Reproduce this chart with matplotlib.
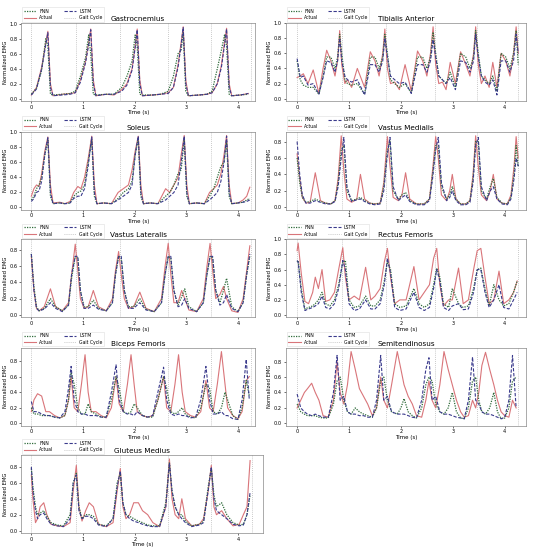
import matplotlib
matplotlib.use("Agg")
import matplotlib.pyplot as plt

# ---------------- data ----------------
gait_cycle = [0, 0.86, 1.72, 2.65, 3.47, 4.26]

# Gastrocnemius
gas_t = [0, 0.1, 0.2, 0.28, 0.32, 0.37, 0.42, 0.6, 0.75, 0.85, 0.95, 1.05, 1.11, 1.15, 1.2, 1.25,
         1.45, 1.6, 1.75, 1.85, 1.95, 2.01, 2.05, 2.1, 2.15, 2.35, 2.5, 2.65, 2.75, 2.84, 2.9, 2.94,
         2.99, 3.04, 3.25, 3.4, 3.5, 3.6, 3.68, 3.74, 3.78, 3.83, 3.88, 4.05, 4.2]
gas_act = [0.05, 0.15, 0.42, 0.75, 0.9, 0.2, 0.04, 0.06, 0.07, 0.08, 0.25, 0.5, 0.75, 0.93, 0.25, 0.04,
           0.06, 0.05, 0.12, 0.2, 0.4, 0.7, 0.93, 0.25, 0.04, 0.05, 0.06, 0.08, 0.15, 0.45, 0.75, 0.96,
           0.25, 0.04, 0.05, 0.06, 0.08, 0.2, 0.45, 0.75, 0.94, 0.2, 0.04, 0.05, 0.07]
gas_fnn = [0.06, 0.14, 0.38, 0.8, 0.7, 0.06, 0.05, 0.06, 0.07, 0.1, 0.3, 0.55, 0.85, 0.6, 0.06, 0.05,
           0.06, 0.06, 0.15, 0.3, 0.5, 0.85, 0.7, 0.06, 0.05, 0.05, 0.06, 0.1, 0.3, 0.6, 0.65, 0.88,
           0.1, 0.04, 0.05, 0.06, 0.1, 0.4, 0.65, 0.85, 0.7, 0.06, 0.04, 0.05, 0.06]
gas_lstm = [0.05, 0.13, 0.4, 0.72, 0.88, 0.15, 0.04, 0.05, 0.06, 0.08, 0.22, 0.48, 0.72, 0.92, 0.2, 0.04,
            0.06, 0.06, 0.1, 0.18, 0.38, 0.68, 0.92, 0.2, 0.04, 0.05, 0.06, 0.07, 0.15, 0.42, 0.72, 0.95,
            0.2, 0.04, 0.05, 0.06, 0.08, 0.2, 0.42, 0.72, 0.93, 0.15, 0.04, 0.05, 0.07]

# Tibialis Anterior
tib_t = [0, 0.06, 0.12, 0.21, 0.31, 0.42, 0.5, 0.57, 0.65, 0.73, 0.78, 0.82, 0.86,
         0.92, 0.97, 1.05, 1.16, 1.3, 1.41, 1.5, 1.58, 1.65, 1.69, 1.74,
         1.8, 1.88, 1.97, 2.08, 2.2, 2.32, 2.42, 2.5, 2.57, 2.62, 2.67,
         2.73, 2.8, 2.87, 2.95, 3.05, 3.15, 3.25, 3.33, 3.4, 3.44, 3.49,
         3.55, 3.62, 3.7, 3.77, 3.85, 3.93, 4.02, 4.1, 4.17, 4.22, 4.26]
tib_act = [0.28, 0.3, 0.33, 0.2, 0.38, 0.07, 0.4, 0.64, 0.5, 0.3, 0.5, 0.9, 0.45,
           0.2, 0.25, 0.15, 0.4, 0.15, 0.62, 0.5, 0.3, 0.6, 0.92, 0.4,
           0.2, 0.22, 0.12, 0.45, 0.1, 0.63, 0.5, 0.3, 0.6, 0.95, 0.45,
           0.2, 0.22, 0.12, 0.48, 0.2, 0.62, 0.45, 0.3, 0.6, 0.95, 0.45,
           0.2, 0.3, 0.15, 0.48, 0.15, 0.6, 0.5, 0.3, 0.6, 0.95, 0.6]
tib_fnn = [0.5, 0.25, 0.18, 0.15, 0.15, 0.06, 0.3, 0.55, 0.55, 0.4, 0.55, 0.85, 0.6,
           0.25, 0.2, 0.18, 0.2, 0.06, 0.55, 0.55, 0.4, 0.55, 0.85, 0.6,
           0.25, 0.2, 0.15, 0.2, 0.08, 0.55, 0.55, 0.4, 0.55, 0.88, 0.6,
           0.3, 0.25, 0.2, 0.35, 0.15, 0.6, 0.55, 0.4, 0.55, 0.9, 0.6,
           0.3, 0.25, 0.2, 0.3, 0.1, 0.6, 0.55, 0.4, 0.6, 0.9, 0.45]
tib_lstm = [0.53, 0.28, 0.3, 0.18, 0.2, 0.06, 0.28, 0.5, 0.48, 0.35, 0.5, 0.8, 0.5,
            0.3, 0.25, 0.22, 0.25, 0.05, 0.45, 0.45, 0.35, 0.5, 0.8, 0.55,
            0.3, 0.25, 0.2, 0.22, 0.07, 0.45, 0.45, 0.35, 0.5, 0.78, 0.55,
            0.3, 0.25, 0.2, 0.28, 0.12, 0.5, 0.48, 0.35, 0.5, 0.85, 0.55,
            0.3, 0.22, 0.18, 0.25, 0.05, 0.5, 0.5, 0.35, 0.5, 0.85, 0.6]

# Soleus
sol_t = [0, 0.05, 0.1, 0.15, 0.2, 0.26, 0.32, 0.37, 0.42, 0.55, 0.65, 0.75,
         0.82, 0.9, 0.96, 1.03, 1.1, 1.17, 1.22, 1.27, 1.4, 1.55,
         1.68, 1.78, 1.88, 1.95, 2.01, 2.07, 2.12, 2.17, 2.3, 2.45,
         2.6, 2.68, 2.76, 2.84, 2.9, 2.96, 3.01, 3.06, 3.2, 3.35,
         3.45, 3.53, 3.6, 3.67, 3.73, 3.78, 3.83, 3.88, 4.0, 4.1, 4.17, 4.23]
sol_act = [0.15, 0.25, 0.3, 0.28, 0.45, 0.75, 0.94, 0.3, 0.06, 0.07, 0.05, 0.08,
           0.2, 0.28, 0.25, 0.4, 0.65, 0.95, 0.3, 0.05, 0.06, 0.05,
           0.2, 0.25, 0.3, 0.5, 0.75, 0.95, 0.3, 0.05, 0.06, 0.05,
           0.25, 0.2, 0.3, 0.4, 0.7, 0.96, 0.3, 0.05, 0.06, 0.05,
           0.2, 0.25, 0.3, 0.45, 0.7, 0.96, 0.3, 0.05, 0.06, 0.1, 0.15, 0.27]
sol_fnn = [0.1, 0.15, 0.25, 0.3, 0.4, 0.7, 0.9, 0.15, 0.05, 0.06, 0.05, 0.06,
           0.15, 0.2, 0.22, 0.3, 0.6, 0.9, 0.15, 0.05, 0.06, 0.05,
           0.12, 0.2, 0.25, 0.35, 0.7, 0.92, 0.15, 0.05, 0.06, 0.05,
           0.15, 0.2, 0.3, 0.45, 0.5, 0.9, 0.15, 0.05, 0.06, 0.05,
           0.15, 0.25, 0.4, 0.55, 0.6, 0.88, 0.15, 0.05, 0.06, 0.07, 0.1, 0.12]
sol_lstm = [0.08, 0.12, 0.2, 0.22, 0.35, 0.7, 0.93, 0.2, 0.05, 0.06, 0.05, 0.06,
            0.12, 0.15, 0.15, 0.25, 0.55, 0.94, 0.2, 0.05, 0.06, 0.05,
            0.1, 0.15, 0.2, 0.3, 0.7, 0.95, 0.2, 0.05, 0.06, 0.05,
            0.1, 0.15, 0.2, 0.3, 0.6, 0.95, 0.2, 0.05, 0.06, 0.05,
            0.1, 0.15, 0.2, 0.35, 0.6, 0.95, 0.2, 0.05, 0.06, 0.07, 0.08, 0.1]

# Vastus Medialis
vm_t = [0, 0.05, 0.1, 0.17, 0.25, 0.35, 0.45, 0.55, 0.65, 0.73, 0.79, 0.85, 0.9, 0.96,
        1.05, 1.15, 1.22, 1.3, 1.4, 1.5, 1.6, 1.67, 1.74, 1.79, 1.85,
        1.95, 2.02, 2.09, 2.17, 2.3, 2.45, 2.55, 2.61, 2.67, 2.72, 2.78,
        2.88, 2.94, 2.99, 3.06, 3.15, 3.25, 3.33, 3.39, 3.44, 3.49, 3.55,
        3.65, 3.72, 3.78, 3.85, 3.95, 4.05, 4.12, 4.18, 4.22, 4.26]
vm_act = [0.65, 0.35, 0.12, 0.05, 0.06, 0.42, 0.08, 0.05, 0.04, 0.08, 0.35, 0.87, 0.45, 0.1,
          0.06, 0.1, 0.4, 0.1, 0.05, 0.04, 0.05, 0.3, 0.86, 0.5, 0.12,
          0.08, 0.15, 0.42, 0.1, 0.04, 0.04, 0.1, 0.45, 0.86, 0.6, 0.15,
          0.08, 0.2, 0.4, 0.1, 0.04, 0.04, 0.08, 0.4, 0.87, 0.5, 0.15,
          0.08, 0.2, 0.4, 0.1, 0.05, 0.04, 0.15, 0.5, 0.86, 0.6]
vm_fnn = [0.6, 0.3, 0.12, 0.06, 0.07, 0.1, 0.07, 0.05, 0.04, 0.08, 0.3, 0.7, 0.75, 0.2,
          0.08, 0.1, 0.12, 0.08, 0.05, 0.04, 0.05, 0.25, 0.7, 0.8, 0.2,
          0.1, 0.15, 0.18, 0.08, 0.04, 0.04, 0.1, 0.4, 0.75, 0.75, 0.25,
          0.1, 0.15, 0.25, 0.1, 0.04, 0.04, 0.08, 0.35, 0.8, 0.8, 0.2,
          0.1, 0.25, 0.35, 0.12, 0.05, 0.04, 0.12, 0.4, 0.75, 0.5]
vm_lstm = [0.8, 0.4, 0.15, 0.05, 0.05, 0.08, 0.06, 0.04, 0.04, 0.07, 0.25, 0.6, 0.85, 0.25,
           0.07, 0.09, 0.1, 0.07, 0.04, 0.03, 0.04, 0.2, 0.65, 0.85, 0.25,
           0.08, 0.12, 0.15, 0.07, 0.03, 0.03, 0.08, 0.35, 0.7, 0.85, 0.3,
           0.08, 0.12, 0.2, 0.08, 0.03, 0.03, 0.06, 0.3, 0.75, 0.85, 0.25,
           0.08, 0.2, 0.25, 0.1, 0.04, 0.03, 0.1, 0.35, 0.6, 0.5]

# Vastus Lateralis
vl_t = [0, 0.05, 0.1, 0.15, 0.25, 0.37, 0.47, 0.6,
        0.72, 0.78, 0.85, 0.9, 0.95, 1.02, 1.1, 1.2, 1.3, 1.45,
        1.57, 1.63, 1.69, 1.74, 1.8, 1.88, 1.98, 2.1, 2.22, 2.38,
        2.52, 2.59, 2.65, 2.7, 2.76, 2.84, 2.91, 2.97, 3.05, 3.2,
        3.33, 3.4, 3.46, 3.51, 3.57, 3.65, 3.72, 3.78, 3.88, 4.0,
        4.1, 4.17, 4.23]
vl_act = [0.72, 0.3, 0.08, 0.05, 0.1, 0.32, 0.1, 0.05,
          0.15, 0.5, 0.87, 0.55, 0.2, 0.08, 0.1, 0.3, 0.1, 0.05,
          0.2, 0.55, 0.78, 0.5, 0.2, 0.08, 0.1, 0.28, 0.08, 0.04,
          0.2, 0.6, 0.88, 0.5, 0.15, 0.15, 0.3, 0.2, 0.06, 0.04,
          0.2, 0.6, 0.88, 0.55, 0.2, 0.25, 0.35, 0.2, 0.05, 0.03,
          0.2, 0.55, 0.85]
vl_fnn = [0.75, 0.35, 0.1, 0.05, 0.08, 0.2, 0.1, 0.05,
          0.12, 0.45, 0.72, 0.7, 0.3, 0.1, 0.1, 0.18, 0.08, 0.05,
          0.15, 0.5, 0.72, 0.7, 0.3, 0.1, 0.1, 0.2, 0.07, 0.04,
          0.15, 0.5, 0.72, 0.7, 0.3, 0.12, 0.22, 0.32, 0.1, 0.04,
          0.15, 0.5, 0.72, 0.7, 0.3, 0.15, 0.3, 0.45, 0.1, 0.04,
          0.15, 0.5, 0.72]
vl_lstm = [0.75, 0.3, 0.08, 0.05, 0.07, 0.15, 0.08, 0.04,
           0.12, 0.5, 0.72, 0.72, 0.3, 0.08, 0.08, 0.12, 0.07, 0.05,
           0.15, 0.5, 0.72, 0.72, 0.3, 0.08, 0.08, 0.15, 0.06, 0.04,
           0.15, 0.5, 0.72, 0.72, 0.3, 0.1, 0.12, 0.2, 0.08, 0.04,
           0.15, 0.5, 0.72, 0.72, 0.3, 0.12, 0.15, 0.25, 0.08, 0.04,
           0.15, 0.5, 0.75]

# Rectus Femoris
rf_t = [0, 0.02, 0.08, 0.15, 0.22, 0.3, 0.35, 0.41, 0.48, 0.55,
        0.63, 0.72, 0.8, 0.88, 0.93, 1.0, 1.1, 1.2, 1.32, 1.42,
        1.5, 1.6, 1.68, 1.74, 1.8, 1.88, 1.98, 2.1, 2.25, 2.35,
        2.45, 2.55, 2.63, 2.69, 2.75, 2.82, 2.92, 2.99, 3.11, 3.2,
        3.3, 3.4, 3.47, 3.54, 3.62, 3.7, 3.79, 3.89, 3.98, 4.08,
        4.17, 4.24]
rf_act = [0.85, 0.95, 0.55, 0.18, 0.15, 0.3, 0.5, 0.35, 0.6, 0.18,
          0.2, 0.3, 0.6, 0.89, 0.5, 0.2, 0.25, 0.2, 0.63, 0.2,
          0.25, 0.35, 0.7, 0.88, 0.5, 0.15, 0.2, 0.2, 0.64, 0.2,
          0.3, 0.4, 0.75, 0.88, 0.4, 0.12, 0.2, 0.2, 0.62, 0.15,
          0.2, 0.6, 0.85, 0.88, 0.5, 0.15, 0.2, 0.58, 0.15, 0.2,
          0.3, 0.45]
rf_fnn = [0.7, 0.72, 0.35, 0.08, 0.1, 0.12, 0.15, 0.2, 0.3, 0.15,
          0.12, 0.2, 0.4, 0.7, 0.72, 0.2, 0.1, 0.12, 0.25, 0.12,
          0.12, 0.2, 0.45, 0.7, 0.6, 0.15, 0.1, 0.12, 0.35, 0.15,
          0.1, 0.15, 0.4, 0.62, 0.5, 0.15, 0.1, 0.35, 0.15, 0.1,
          0.12, 0.35, 0.6, 0.62, 0.35, 0.12, 0.4, 0.2, 0.12, 0.15,
          0.3, 0.45]
rf_lstm = [0.72, 0.7, 0.3, 0.06, 0.08, 0.1, 0.12, 0.15, 0.25, 0.1,
           0.08, 0.15, 0.35, 0.72, 0.6, 0.15, 0.06, 0.08, 0.2, 0.08,
           0.08, 0.15, 0.4, 0.75, 0.55, 0.1, 0.06, 0.08, 0.3, 0.1,
           0.06, 0.1, 0.35, 0.6, 0.45, 0.1, 0.06, 0.12, 0.15, 0.07,
           0.08, 0.3, 0.6, 0.6, 0.3, 0.1, 0.2, 0.4, 0.1, 0.08,
           0.2, 0.3]

# Biceps Femoris
bf_t = [0, 0.05, 0.12, 0.2, 0.28, 0.35, 0.45, 0.55, 0.65, 0.72,
        0.77, 0.83, 0.9, 0.97, 1.04, 1.1, 1.16, 1.25, 1.35, 1.45,
        1.55, 1.64, 1.7, 1.78, 1.86, 1.93, 1.99, 2.05, 2.15, 2.25,
        2.35, 2.45, 2.56, 2.62, 2.7, 2.78, 2.85, 2.92, 2.98, 3.08,
        3.18, 3.28, 3.38, 3.45, 3.52, 3.6, 3.68, 3.75, 3.8, 3.9,
        4.0, 4.08, 4.16, 4.22]
bf_act = [0.15, 0.3, 0.38, 0.35, 0.15, 0.15, 0.1, 0.07, 0.1, 0.3,
          0.6, 0.2, 0.15, 0.5, 0.88, 0.4, 0.15, 0.15, 0.1, 0.07,
          0.2, 0.6, 0.25, 0.15, 0.5, 0.88, 0.5, 0.15, 0.1, 0.08,
          0.1, 0.3, 0.6, 0.2, 0.15, 0.5, 0.88, 0.4, 0.15, 0.1,
          0.08, 0.15, 0.55, 0.2, 0.15, 0.5, 0.92, 0.5, 0.2, 0.1,
          0.06, 0.15, 0.55, 0.6]
bf_fnn = [0.2, 0.12, 0.12, 0.1, 0.1, 0.1, 0.08, 0.07, 0.1, 0.3,
          0.65, 0.5, 0.2, 0.12, 0.12, 0.25, 0.15, 0.12, 0.08, 0.08,
          0.3, 0.6, 0.45, 0.15, 0.12, 0.15, 0.25, 0.2, 0.1, 0.08,
          0.08, 0.3, 0.6, 0.45, 0.15, 0.12, 0.15, 0.2, 0.12, 0.08,
          0.07, 0.2, 0.5, 0.45, 0.15, 0.12, 0.2, 0.4, 0.3, 0.1,
          0.05, 0.2, 0.55, 0.35]
bf_lstm = [0.28, 0.15, 0.15, 0.12, 0.1, 0.1, 0.08, 0.07, 0.15, 0.45,
           0.73, 0.3, 0.15, 0.12, 0.12, 0.1, 0.1, 0.1, 0.08, 0.08,
           0.4, 0.75, 0.3, 0.15, 0.12, 0.12, 0.1, 0.15, 0.1, 0.08,
           0.1, 0.4, 0.72, 0.3, 0.12, 0.1, 0.12, 0.1, 0.1, 0.07,
           0.08, 0.3, 0.73, 0.3, 0.12, 0.12, 0.15, 0.1, 0.1, 0.06,
           0.05, 0.3, 0.82, 0.3]

# Semitendinosus
st_t = [0, 0.07, 0.14, 0.2, 0.28, 0.35, 0.42, 0.5, 0.6, 0.7,
        0.77, 0.83, 0.9, 0.97, 1.04, 1.12, 1.2, 1.28, 1.36, 1.45,
        1.53, 1.61, 1.67, 1.74, 1.82, 1.93, 2.0, 2.06, 2.14, 2.22,
        2.3, 2.4, 2.48, 2.54, 2.6, 2.67, 2.75, 2.83, 2.91, 2.99,
        3.07, 3.15, 3.22, 3.3, 3.38, 3.44, 3.5, 3.56, 3.63, 3.71,
        3.79, 3.86, 3.93, 4.0, 4.08, 4.15, 4.22]
st_act = [0.2, 0.3, 0.4, 0.45, 0.52, 0.4, 0.3, 0.1, 0.08, 0.3,
          0.8, 0.4, 0.25, 0.5, 0.93, 0.7, 0.45, 0.35, 0.25, 0.1,
          0.2, 0.6, 0.3, 0.2, 0.5, 0.93, 0.7, 0.5, 0.35, 0.25,
          0.1, 0.08, 0.3, 0.55, 0.3, 0.2, 0.5, 0.93, 0.7, 0.5,
          0.3, 0.15, 0.08, 0.1, 0.3, 0.2, 0.4, 0.75, 0.92, 0.7,
          0.5, 0.3, 0.15, 0.1, 0.08, 0.3, 0.2]
st_fnn = [0.25, 0.15, 0.12, 0.1, 0.1, 0.1, 0.08, 0.07, 0.07, 0.25,
          0.55, 0.6, 0.3, 0.15, 0.12, 0.2, 0.15, 0.12, 0.1, 0.08,
          0.2, 0.55, 0.6, 0.3, 0.15, 0.12, 0.2, 0.32, 0.15, 0.1,
          0.07, 0.2, 0.5, 0.6, 0.55, 0.25, 0.15, 0.12, 0.2, 0.4,
          0.15, 0.07, 0.06, 0.2, 0.55, 0.6, 0.3, 0.15, 0.12, 0.2,
          0.4, 0.15, 0.06, 0.07, 0.2, 0.55, 0.6]
st_lstm = [0.38, 0.2, 0.15, 0.12, 0.1, 0.12, 0.1, 0.08, 0.08, 0.4,
           0.88, 0.3, 0.35, 0.15, 0.12, 0.12, 0.1, 0.1, 0.08, 0.08,
           0.3, 0.88, 0.3, 0.35, 0.15, 0.12, 0.12, 0.12, 0.1, 0.08,
           0.07, 0.3, 0.7, 0.85, 0.3, 0.35, 0.15, 0.12, 0.12, 0.1,
           0.08, 0.07, 0.06, 0.3, 0.86, 0.3, 0.25, 0.15, 0.12, 0.12,
           0.1, 0.08, 0.06, 0.08, 0.3, 0.88, 0.2]

# Gluteus Medius
gm_t = [0, 0.03, 0.08, 0.12, 0.17, 0.24, 0.3, 0.38, 0.5, 0.62,
        0.75, 0.81, 0.87, 0.92, 0.98, 1.05, 1.12, 1.2, 1.3, 1.45,
        1.58, 1.66, 1.72, 1.77, 1.83, 1.9, 1.98, 2.07, 2.15, 2.25,
        2.35, 2.48, 2.6, 2.67, 2.72, 2.78, 2.85, 2.91, 2.98, 3.1,
        3.25, 3.33, 3.42, 3.48, 3.53, 3.58, 3.68, 3.78, 3.9, 4.02,
        4.1, 4.17, 4.23]
gm_act = [0.7, 0.4, 0.1, 0.15, 0.3, 0.35, 0.2, 0.08, 0.06, 0.05,
          0.1, 0.5, 0.82, 0.3, 0.12, 0.25, 0.35, 0.3, 0.08, 0.05,
          0.1, 0.5, 0.78, 0.3, 0.15, 0.2, 0.35, 0.35, 0.25, 0.2,
          0.1, 0.05, 0.3, 0.9, 0.4, 0.2, 0.15, 0.4, 0.15, 0.06,
          0.08, 0.15, 0.5, 0.82, 0.3, 0.2, 0.25, 0.15, 0.06, 0.08,
          0.2, 0.3, 0.88]
gm_fnn = [0.78, 0.55, 0.3, 0.2, 0.22, 0.25, 0.18, 0.1, 0.07, 0.06,
          0.2, 0.6, 0.72, 0.3, 0.15, 0.2, 0.2, 0.18, 0.08, 0.06,
          0.15, 0.6, 0.72, 0.35, 0.2, 0.18, 0.15, 0.12, 0.1, 0.07,
          0.06, 0.06, 0.35, 0.85, 0.5, 0.3, 0.2, 0.2, 0.12, 0.06,
          0.08, 0.12, 0.55, 0.78, 0.45, 0.3, 0.35, 0.2, 0.1, 0.07,
          0.08, 0.2, 0.45]
gm_lstm = [0.8, 0.5, 0.25, 0.15, 0.2, 0.22, 0.15, 0.08, 0.06, 0.05,
           0.15, 0.6, 0.7, 0.25, 0.15, 0.18, 0.18, 0.15, 0.07, 0.05,
           0.15, 0.55, 0.75, 0.35, 0.2, 0.15, 0.12, 0.1, 0.08, 0.06,
           0.05, 0.05, 0.3, 0.85, 0.5, 0.3, 0.2, 0.15, 0.1, 0.05,
           0.07, 0.1, 0.5, 0.8, 0.4, 0.25, 0.2, 0.15, 0.08, 0.06,
           0.07, 0.2, 0.48]

titles = ["Gastrocnemius", "Tibialis Anterior", "Soleus", "Vastus Medialis",
          "Vastus Lateralis", "Rectus Femoris", "Biceps Femoris", "Semitendinosus",
          "Gluteus Medius"]

panels = [
    (gas_t, gas_fnn, gas_act, gas_lstm),
    (tib_t, tib_fnn, tib_act, tib_lstm),
    (sol_t, sol_fnn, sol_act, sol_lstm),
    (vm_t, vm_fnn, vm_act, vm_lstm),
    (vl_t, vl_fnn, vl_act, vl_lstm),
    (rf_t, rf_fnn, rf_act, rf_lstm),
    (bf_t, bf_fnn, bf_act, bf_lstm),
    (st_t, st_fnn, st_act, st_lstm),
    (gm_t, gm_fnn, gm_act, gm_lstm),
]

# ---------------- figure ----------------
W, H = 534, 550
fig = plt.figure(figsize=(W / 100, H / 100), dpi=100)

row_tops = [23, 131.7, 239.3, 347.7, 455]
ax_h = 78
col_x = [(21, 255), (285.7, 526)]
xlims = [(-0.2, 4.33), (-0.22, 4.41)]

c_fnn = "#2f6b3a"
c_act = "#d9757a"
c_lstm = "#3a3a8c"
c_gait = "#b8b8b8"

for i, (t, fnn, act, lstm) in enumerate(panels):
    row, col = divmod(i, 2)
    x0, x1 = col_x[col]
    xl = xlims[col]
    if i == 8:
        x1 = 262.5
        xl = (-0.2, 4.47)
    top = row_tops[row]
    ax = fig.add_axes([x0 / W, 1 - (top + ax_h) / H, (x1 - x0) / W, ax_h / H])
    n = min(len(t), len(fnn), len(act), len(lstm))
    ax.plot(t[:n], fnn[:n], color=c_fnn, ls=(0, (1, 1)), lw=0.9, label="FNN", zorder=3)
    ax.plot(t[:n], act[:n], color=c_act, ls="-", lw=0.8, label="Actual", zorder=2)
    ax.plot(t[:n], lstm[:n], color=c_lstm, ls=(0, (3, 1.5)), lw=0.8, label="LSTM", zorder=4)
    for k, g in enumerate(gait_cycle):
        ax.axvline(g, color=c_gait, ls=(0, (1, 1.5)), lw=0.6,
                   label="Gait Cycle" if k == 0 else None, zorder=1)
    ymax = max(max(fnn), max(act), max(lstm))
    ax.set_ylim(-0.03, ymax + 0.05)
    ax.set_xlim(*xl)
    ax.set_xticks([0, 1, 2, 3, 4])
    ax.tick_params(labelsize=3.6, length=1.5, width=0.4, pad=1.2)
    ax.set_xlabel("Time (s)", fontsize=4.0, labelpad=0.5)
    ax.set_ylabel("Normalized EMG", fontsize=3.8, labelpad=1)
    ax.set_title(titles[i], fontsize=5.2, pad=1.5)
    for s in ax.spines.values():
        s.set_linewidth(0.5)
        s.set_color("#888888")
    leg = ax.legend(loc="lower left", bbox_to_anchor=(0.0, 1.0), ncol=2, fontsize=3.3,
                    frameon=True, framealpha=1, edgecolor="#dddddd", fancybox=False,
                    handlelength=2.7, columnspacing=2.2, borderpad=0.3, labelspacing=0.35,
                    handletextpad=0.7, borderaxespad=0.3)
    leg.get_frame().set_linewidth(0.4)

fig.savefig("out.png", dpi=100)
